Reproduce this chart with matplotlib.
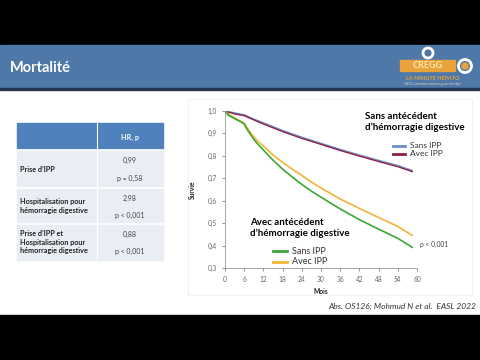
import matplotlib
matplotlib.use("Agg")
import matplotlib.pyplot as plt
from matplotlib.patches import Rectangle, Circle, FancyBboxPatch

plt.rcParams['font.family'] = ['Lato', 'DejaVu Sans']

# ---------------- data ----------------
months_blue = [0, 3, 6, 9, 12, 18, 24, 30, 36, 42, 48, 54, 58.5]
surv_blue = [1.0, 0.99, 0.982, 0.963, 0.946, 0.912, 0.882, 0.855, 0.828, 0.803, 0.779, 0.756, 0.734]
months_red = [0, 3, 6, 9, 12, 18, 24, 30, 36, 42, 48, 54, 58.5]
surv_red = [0.997, 0.986, 0.978, 0.959, 0.941, 0.907, 0.877, 0.850, 0.823, 0.798, 0.774, 0.751, 0.729]
months_green = [0, 1, 3, 5, 6, 7, 8, 9, 10, 12, 15, 18, 21, 24, 27, 30, 36, 42, 48, 54, 58.5]
surv_green = [1.0, 0.98, 0.965, 0.95, 0.94, 0.915, 0.893, 0.873, 0.855, 0.825, 0.78, 0.74,
              0.705, 0.672, 0.642, 0.615, 0.563, 0.515, 0.473, 0.432, 0.392]
months_orange = [0, 1, 3, 5, 6, 7, 8, 9, 10, 12, 15, 18, 21, 24, 27, 30, 36, 42, 48, 54, 58.5]
surv_orange = [1.0, 0.985, 0.968, 0.952, 0.945, 0.922, 0.902, 0.885, 0.868, 0.842, 0.803, 0.77,
               0.74, 0.712, 0.683, 0.656, 0.607, 0.565, 0.525, 0.485, 0.445]

x_ticks = [0, 6, 12, 18, 24, 30, 36, 42, 48, 54, 60]
y_ticks = [0.3, 0.4, 0.5, 0.6, 0.7, 0.8, 0.9, 1.0]

table_header = "HR, p"
table_rows = ["Prise d\u2019IPP",
              "Hospitalisation pour\nhémorragie digestive",
              "Prise d\u2019IPP et\nHospitalisation pour\nhémorragie digestive"]
table_hr = ["0,99", "2,98", "0,88"]
table_p = ["p = 0,58", "p < 0,001", "p < 0,001"]

# ---------------- figure ----------------
fig = plt.figure(figsize=(4.8, 3.6), dpi=100)
bg = fig.add_axes([0, 0, 1, 1], zorder=0)
bg.set_xlim(0, 480)
bg.set_ylim(360, 0)
bg.axis('off')

# slide background
bg.add_patch(Rectangle((0, 0), 480, 360, color='white'))
bg.add_patch(Rectangle((0, 0), 480, 45, color='black'))
bg.add_patch(Rectangle((0, 315), 480, 45, color='black'))
bg.add_patch(Rectangle((0, 45), 480, 43, color='#4d78a8'))
bg.add_patch(Rectangle((0, 87.5), 480, 2, color='#1f3550'))
bg.text(10, 68, "Mortalité", color='white', fontsize=10.5, fontweight='bold',
        va='center', ha='left')

# logo (approximate)
bg.add_patch(FancyBboxPatch((401, 61), 54, 10, boxstyle="round,pad=0.5",
                            color='#e8a33a'))
bg.text(428, 66, "CREGG", color='#f7e6b0', fontsize=6.5, fontweight='bold',
        ha='center', va='center')
bg.add_patch(Circle((465, 66), 6.5, fill=False, ec='white', lw=2))
bg.add_patch(Circle((465, 66), 3, color='#e8a33a'))
bg.add_patch(Circle((428, 53), 5, fill=False, ec='white', lw=2))
bg.text(433, 78, "LA MINUTE HEPATO", color='#e8a33a', fontsize=4, fontweight='bold',
        ha='center', va='center')
bg.text(433, 84, "CREGG, la formation continue en gastro-entérologie", color='#e8d9b0',
        fontsize=1.8, ha='center', va='center')

# chart frame
bg.add_patch(Rectangle((188, 99), 284, 196, fill=False, ec='#efefef', lw=0.6))

# table
tx0, tx1, tdiv = 17, 163, 97
bg.add_patch(Rectangle((tx0, 123), tx1 - tx0, 27, color='#4f81bd'))
row_edges = [150, 188, 224, 260]
for i in range(3):
    bg.add_patch(Rectangle((tx0, row_edges[i]), tx1 - tx0,
                           row_edges[i + 1] - row_edges[i], color='#e9eef5'))
    bg.plot([tx0, tx1], [row_edges[i], row_edges[i]], color='white', lw=1.2)
bg.plot([tdiv, tdiv], [123, 260], color='white', lw=0.8)
bg.text(130, 137, table_header, color='white', fontsize=5.2, fontweight='bold',
        ha='center', va='center')
for i in range(3):
    y0, y1 = row_edges[i], row_edges[i + 1]
    bg.text(20, (y0 + y1) / 2, table_rows[i], fontsize=5.2, fontweight='bold',
            color='#222222', ha='left', va='center', linespacing=1.3)
    bg.text(130, y0 + (y1 - y0) * 0.28, table_hr[i], fontsize=5.0, color='#444444',
            ha='center', va='center')
    bg.text(130, y0 + (y1 - y0) * 0.75, table_p[i], fontsize=5.0, color='#444444',
            ha='center', va='center')

# ---------------- chart ----------------
ax = fig.add_axes([225 / 480, 1 - 268 / 360, 192 / 480, 157.3 / 360], zorder=2)
ax.patch.set_alpha(0)
ax.plot(months_blue, surv_blue, color='#6b8fc2', lw=1.0)
ax.plot(months_red, surv_red, color='#8e1d48', lw=1.0)
ax.plot(months_orange, surv_orange, color='#f5b335', lw=1.2)
ax.plot(months_green, surv_green, color='#3aa638', lw=1.2)

ax.set_xlim(0, 60)
ax.set_ylim(0.3, 1.0)
ax.set_xticks(x_ticks)
ax.set_yticks(y_ticks)
ax.set_yticklabels([f"{v:.1f}".replace('.', ',') for v in y_ticks])
ax.tick_params(labelsize=4.8, colors='#666666', length=2, width=0.5, pad=4)
for s in ['top', 'right']:
    ax.spines[s].set_visible(False)
for s in ['left', 'bottom']:
    ax.spines[s].set_color('#999999')
    ax.spines[s].set_linewidth(0.6)
ax.set_xlabel("Mois", fontsize=4.8, fontweight='bold', labelpad=3, color='#222222')
ax.set_ylabel("Survie", fontsize=4.8, fontweight='bold', labelpad=8, color='#222222')

# annotations (pixel coordinates via background axes)
bg.text(365, 122, "Sans antécédent\nd\u2019hémorragie digestive", fontsize=7,
        fontweight='bold', ha='left', va='center', linespacing=1.35, zorder=3)
bg.plot([393, 405], [146, 146], color='#6b8fc2', lw=2)
bg.plot([393, 405], [154, 154], color='#8e1d48', lw=2)
bg.text(410, 146, "Sans IPP", fontsize=6, ha='left', va='center', color='#333333')
bg.text(410, 154, "Avec IPP", fontsize=6, ha='left', va='center', color='#333333')

bg.text(250, 228, "Avec antécédent\nd\u2019hémorragie digestive", fontsize=7,
        fontweight='bold', ha='left', va='center', linespacing=1.35, zorder=3)
bg.plot([273, 287], [251, 251], color='#3aa638', lw=2)
bg.plot([273, 287], [262, 262], color='#f5b335', lw=2)
bg.text(292, 251, "Sans IPP", fontsize=6.5, ha='left', va='center', color='#333333')
bg.text(292, 262, "Avec IPP", fontsize=6.5, ha='left', va='center', color='#333333')

bg.text(420, 244, "p < 0,001", fontsize=4.8, ha='left', va='center', color='#444444')

bg.text(476, 306, "Abs. OS126; Mohmud N et al.  EASL 2022", fontsize=6, style='italic',
        ha='right', va='center', color='#333333')

fig.savefig("out.png", dpi=100)
